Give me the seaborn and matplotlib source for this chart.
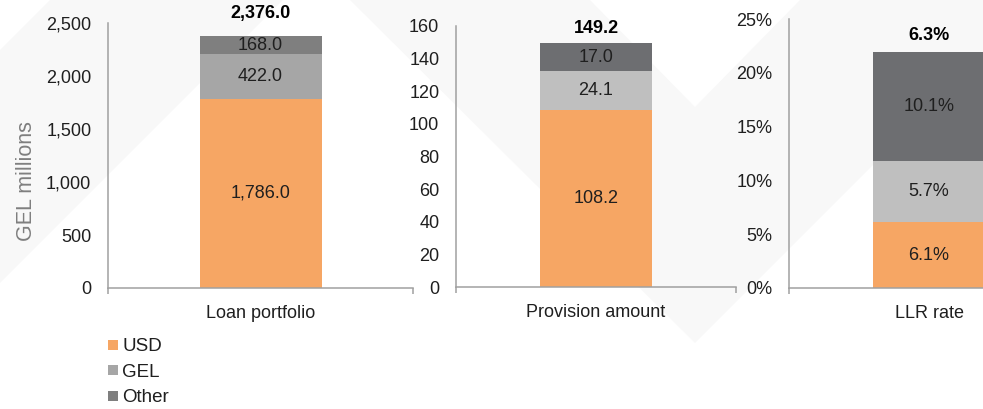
import matplotlib
matplotlib.use("Agg")
import matplotlib.pyplot as plt
from matplotlib.patches import Polygon
from matplotlib.lines import Line2D
from matplotlib.ticker import FuncFormatter, MultipleLocator, FixedLocator
import pandas as pd
import seaborn as sns

categories = ["Loan portfolio", "Provision amount", "LLR rate"]
series = ["USD", "GEL", "Other"]
usd = [1786.0, 108.2, 6.1]
gel = [422.0, 24.1, 5.7]
other = [168.0, 17.0, 10.1]
totals = [2376.0, 149.2, 6.3]
y_max = [2500, 160, 25]
y_step = [500, 20, 5]
value_fmt = ["{:,.1f}", "{:.1f}", "{:.1f}%"]
tick_fmt = ["{:,.0f}", "{:.0f}", "{:.0f}%"]

W, H = 983, 409
ORANGE = "#f6a664"
panel_colors = [
    [ORANGE, "#a6a6a6", "#7f7f7f"],
    [ORANGE, "#bfbfbf", "#6d6e71"],
    [ORANGE, "#bfbfbf", "#6d6e71"],
]
# axes boxes in pixels: left, right, top, bottom
boxes = [(108, 413, 23, 288), (456, 736, 26, 287), (789, 1069, 19, 288)]
total_gap = [10, 4.5, 6]  # points above bar top

sns.set_style("white")
plt.rcParams["font.family"] = ["Liberation Sans", "DejaVu Sans"]
TXT = "#1f1f1f"
SPINE = "#a0a0a0"

fig = plt.figure(figsize=(W / 100, H / 100), dpi=100)


def px(x, y):
    return (x / W, 1 - y / H)


# faint background watermark
wm = "#f8f8f8"
for pts in [
    [(0, 50), (50, 0), (283, 0), (0, 283)],
    [(350, 0), (590, 0), (695, 107), (800, 0), (1038, 0), (695, 343)],
]:
    fig.patches.append(
        Polygon([px(*p) for p in pts], closed=True, transform=fig.transFigure,
                facecolor=wm, edgecolor="none", zorder=-10)
    )

for i, cat in enumerate(categories):
    l, r, t, b = boxes[i]
    ax = fig.add_axes([l / W, 1 - b / H, (r - l) / W, (b - t) / H])
    ax.patch.set_visible(False)

    vals = [usd[i], gel[i], other[i]]
    cols = panel_colors[i]
    df = pd.DataFrame({"cat": [cat], "usd": [vals[0]],
                       "gel": [vals[0] + vals[1]],
                       "other": [vals[0] + vals[1] + vals[2]]})
    for key, c in zip(["other", "gel", "usd"], cols[::-1]):
        sns.barplot(data=df, x="cat", y=key, color=c, saturation=1,
                    width=0.4, linewidth=0, ax=ax)

    bottom = 0
    for v in vals:
        ax.text(0, bottom + v / 2, value_fmt[i].format(v), ha="center",
                va="center", fontsize=13, color=TXT)
        bottom += v
    ax.annotate(value_fmt[i].format(totals[i]), (0, bottom),
                xytext=(0, total_gap[i]), textcoords="offset points",
                ha="center", va="bottom", fontsize=13, fontweight="bold",
                color="black")

    ax.set_xlim(-0.5, 0.5)
    ax.set_ylim(0, y_max[i])
    ax.yaxis.set_major_locator(MultipleLocator(y_step[i]))
    ax.yaxis.set_major_formatter(FuncFormatter(lambda v, p, f=tick_fmt[i]: f.format(v)))
    ax.xaxis.set_minor_locator(FixedLocator([-0.5, 0.5]))
    ax.tick_params(axis="x", which="major", length=0, pad=12, labelsize=13,
                   labelcolor=TXT)
    ax.tick_params(axis="x", which="minor", length=4, width=1.1, color=SPINE,
                   direction="out", bottom=True)
    ax.tick_params(axis="y", length=0, pad=12, labelsize=13, labelcolor=TXT)
    ax.set_xlabel("")
    ax.set_ylabel("")
    for s in ["top", "right"]:
        ax.spines[s].set_visible(False)
    for s in ["left", "bottom"]:
        ax.spines[s].set_color(SPINE)
        ax.spines[s].set_linewidth(1.1)

fig.text(*px(27, 181), "GEL millions", rotation=90, ha="center", va="center",
         fontsize=15.5, color="#7f7f7f")

handles = [Line2D([], [], marker="s", linestyle="none", markersize=7.5,
                  markerfacecolor=c, markeredgewidth=0)
           for c in panel_colors[0]]
fig.legend(handles, series, loc="upper left", bbox_to_anchor=px(107, 338),
           frameon=False, fontsize=13.5, handlelength=0.6, handletextpad=0.2,
           labelspacing=0.45, borderpad=0, borderaxespad=0, labelcolor=TXT)

fig.savefig("out.png", dpi=100)
